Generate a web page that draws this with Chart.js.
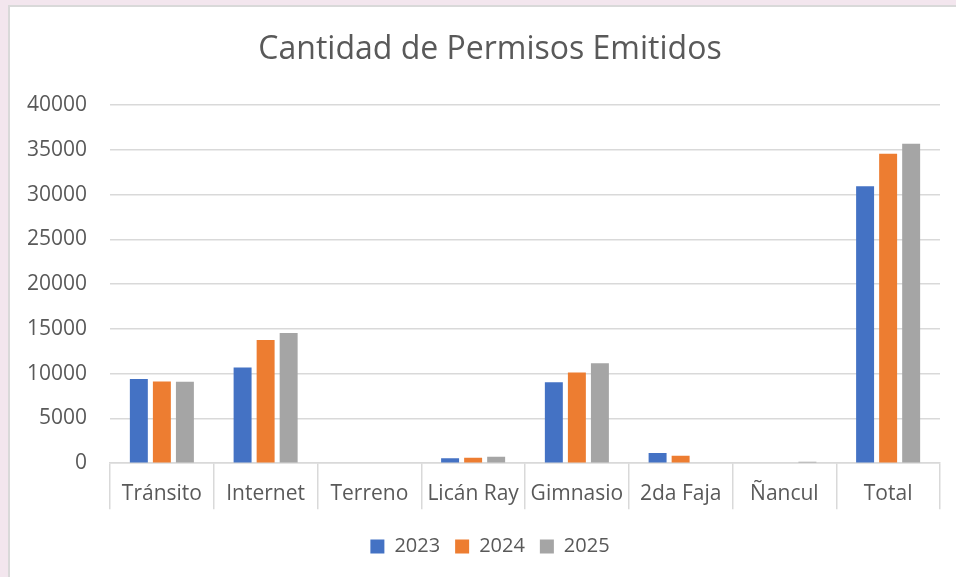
<!DOCTYPE html>
<html>
<head>
<meta charset="utf-8">
<script src="https://cdn.jsdelivr.net/npm/chart.js@4/dist/chart.umd.min.js"></script>
<style>
  html, body { margin: 0; padding: 0; }
  body { width: 956px; height: 577px; background: #f3e6ee; position: relative; overflow: hidden; }
  #card { position: absolute; left: 8px; top: 5px; width: 960px; height: 600px; background: #fff; border: 2px solid #d9d9d9; box-sizing: border-box; }
  #wrap { position: absolute; left: 0; top: 0; width: 956px; height: 577px; }
</style>
</head>
<body>
<div id="card"></div>
<div id="wrap"><canvas id="c" width="956" height="577"></canvas></div>
<script>
const categories = ["Tránsito", "Internet", "Terreno", "Licán Ray", "Gimnasio", "2da Faja", "Ñancul", "Total"];
const seriesNames = ["2023", "2024", "2025"];
const values2023 = [9400, 10680, 0, 540, 9030, 1140, 0, 30920];
const values2024 = [9110, 13750, 0, 617, 10120, 840, 0, 34550];
const values2025 = [9100, 14530, 0, 730, 11170, 0, 150, 35670];
const yTicks = [0, 5000, 10000, 15000, 20000, 25000, 30000, 35000, 40000];
const colors = ["#4472C4", "#ED7D31", "#A5A5A5"];
const textColor = "#595959";
const fontFamily = "'Open Sans', sans-serif";

const datasets = [values2023, values2024, values2025].map((v, i) => ({
  label: seriesNames[i],
  data: v,
  backgroundColor: colors[i],
  borderWidth: 0,
  categoryPercentage: 0.666,
  barPercentage: 0.78
}));

// shift title and legend horizontally to match the reference centring
const shiftPlugin = {
  id: 'shiftBlocks',
  afterLayout(chart) {
    const dx = 20;
    if (chart.titleBlock) { chart.titleBlock.left += dx; chart.titleBlock.right += dx; }
    if (chart.legend) { chart.legend.left += dx; chart.legend.right += dx; }
  }
};

new Chart(document.getElementById('c'), {
  type: 'bar',
  data: { labels: categories, datasets },
  plugins: [shiftPlugin],
  options: {
    responsive: false,
    animation: false,
    layout: { padding: { left: 0, right: 16, top: 0, bottom: 10.4 } },
    plugins: {
      title: {
        display: true,
        text: "Cantidad de Permisos Emitidos",
        color: textColor,
        font: { family: fontFamily, size: 32, weight: 'normal' },
        padding: { top: 31, bottom: 35.6 }
      },
      legend: {
        position: 'bottom',
        labels: {
          color: textColor,
          font: { family: fontFamily, size: 20 },
          boxWidth: 14,
          boxHeight: 14,
          padding: 15
        }
      },
      tooltip: { enabled: false }
    },
    scales: {
      x: {
        grid: {
          offset: true,
          drawOnChartArea: false,
          drawTicks: true,
          tickLength: 46,
          color: "#d9d9d9",
          lineWidth: 1.5
        },
        border: { display: true, color: "#d9d9d9", width: 1.5 },
        ticks: {
          color: textColor,
          font: { family: fontFamily, size: 21 },
          padding: -28,
          maxRotation: 0,
          autoSkip: false
        },
        afterFit: (s) => { s.height = 58.4; }
      },
      y: {
        min: 0,
        max: 40000,
        afterBuildTicks: (s) => { s.ticks = yTicks.map(v => ({ value: v })); },
        grid: { color: "#d9d9d9", lineWidth: 1.5, drawTicks: false },
        border: { display: false },
        ticks: {
          color: textColor,
          font: { family: fontFamily, size: 21 },
          padding: 23,
          callback: (v) => String(v)
        },
        afterFit: (s) => { s.width = 110; }
      }
    }
  }
});
</script>
</body>
</html>
